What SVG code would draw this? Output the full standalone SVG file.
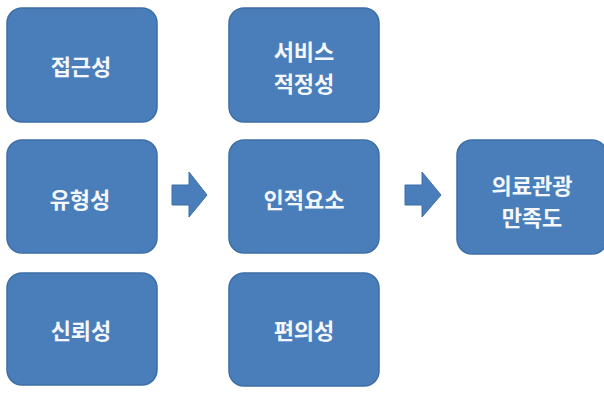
<svg xmlns="http://www.w3.org/2000/svg" width="604" height="401" viewBox="0 0 604 401">
  <style>
    .box { fill: #4a7ebb; stroke: #3d6ea6; stroke-width: 1.5; }
    .lbl { fill: #f4f7fc; font-family: "Noto Sans CJK KR", "Noto Sans", sans-serif; font-size: 22px; font-weight: bold; text-anchor: middle; dominant-baseline: central; }
    .arr { fill: #4a7ebb; stroke: #3d6ea6; stroke-width: 1; }
  </style>
  <rect width="604" height="401" fill="#ffffff"/>

  <g id="n-access">
    <rect class="box" x="7" y="8" width="150" height="114" rx="15"/>
    <text class="lbl" x="81" y="65">접근성</text>
  </g>
  <g id="n-tangible">
    <rect class="box" x="7" y="140" width="150" height="113" rx="15"/>
    <text class="lbl" x="80" y="198">유형성</text>
  </g>
  <g id="n-reliable">
    <rect class="box" x="7" y="273" width="150" height="112" rx="15"/>
    <text class="lbl" x="81" y="329">신뢰성</text>
  </g>

  <g id="n-service">
    <rect class="box" x="229" y="8" width="150" height="114" rx="15"/>
    <text class="lbl" x="304" y="50">서비스</text>
    <text class="lbl" x="304" y="82">적정성</text>
  </g>
  <g id="n-factor">
    <rect class="box" x="229" y="140" width="150" height="113" rx="15"/>
    <text class="lbl" x="304" y="198">인적요소</text>
  </g>
  <g id="n-convenience">
    <rect class="box" x="229" y="273" width="150" height="113" rx="15"/>
    <text class="lbl" x="304" y="329">편의성</text>
  </g>

  <g id="n-satisfaction">
    <rect class="box" x="457" y="140" width="150" height="114" rx="15"/>
    <text class="lbl" x="532" y="184">의료관광</text>
    <text class="lbl" x="532" y="216">만족도</text>
  </g>

  <g id="connectors">
    <polygon class="arr" points="172,185 189,185 189,172 207,195 189,217 189,205 172,205"/>
    <polygon class="arr" points="405,185 422,185 422,172 441,195 422,217 422,205 405,205"/>
  </g>
</svg>
